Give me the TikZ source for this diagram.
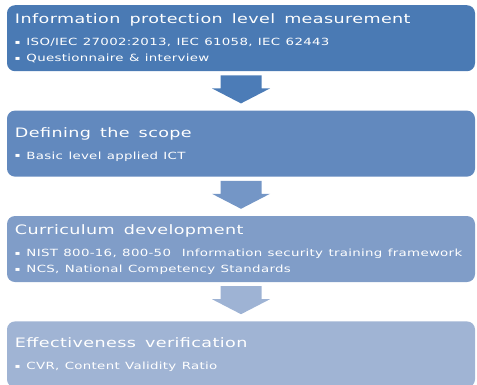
\documentclass[tikz,border=0pt]{standalone}
\usepackage{fontspec}
\setmainfont{DejaVu Sans}[FakeStretch=1.35, LetterSpace=3]
\usetikzlibrary{positioning,calc}
\definecolor{stageA}{RGB}{74,122,180}
\definecolor{stageB}{RGB}{98,137,190}
\definecolor{stageC}{RGB}{128,157,200}
\definecolor{stageD}{RGB}{160,180,212}
\definecolor{arrowA}{RGB}{76,124,183}
\definecolor{arrowB}{RGB}{116,150,198}
\definecolor{arrowC}{RGB}{158,179,212}

\begin{document}
\begin{tikzpicture}[
  x=1pt, y=-1pt,
  stage/.style={fill=#1, rounded corners=8pt, minimum width=468pt, minimum height=66pt,
                text width=452pt, inner xsep=8pt, inner ysep=0pt, align=left, text=white,
                font=\fontsize{9.9}{16}\selectfont},
  node distance=39pt,
]
\useasboundingbox (0,0) rectangle (477,384);

% block arrow from the foot of one stage to the head of the next
\newcommand{\stagearrow}[3]{%
  \fill[#3] ($(#1.south)+(-20.5,4)$) -- ($(#1.south)+(20.5,4)$)
    -- ($(#2.north)+(20.5,-22)$) -- ($(#2.north)+(29,-22)$)
    -- ($(#2.north)+(0,-7)$)
    -- ($(#2.north)+(-29,-22)$) -- ($(#2.north)+(-20.5,-22)$) -- cycle;
}
% lines sit on cap height / baseline so the block centres like the slide text
\newcommand{\stagettl}[1]{\raisebox{0pt}[9pt][0pt]{\fontsize{13}{16}\selectfont\spaceskip=0.7em #1}}
\newcommand{\bul}[1]{\raisebox{0pt}[\height][-2pt]{\spaceskip=0.55em
  \raisebox{1.5pt}{\fontsize{6}{6}\selectfont ▪}\hspace{6pt}#1}}

% ---------------- stages ----------------
\node[stage=stageA, anchor=north] (measure) at (241,5)
  {\stagettl{Information protection level measurement}\\[6pt]
   \bul{ISO/IEC 27002:2013, IEC 61058, IEC 62443}\\
   \bul{Questionnaire \& interview}};
\node[stage=stageB, below=of measure] (scope)
  {\stagettl{Defining the scope}\\[6pt]
   \bul{Basic level applied ICT}};
\node[stage=stageC, below=of scope] (curric)
  {\stagettl{Curriculum development}\\[6pt]
   \bul{NIST 800-16, 800-50\ \ Information security training framework}\\
   \bul{NCS, National Competency Standards}};
\node[stage=stageD, below=of curric] (verify)
  {\stagettl{Effectiveness verification}\\[6pt]
   \bul{CVR, Content Validity Ratio}};

% ---------------- arrows ----------------
\stagearrow{measure}{scope}{arrowA}
\stagearrow{scope}{curric}{arrowB}
\stagearrow{curric}{verify}{arrowC}
\end{tikzpicture}
\end{document}
